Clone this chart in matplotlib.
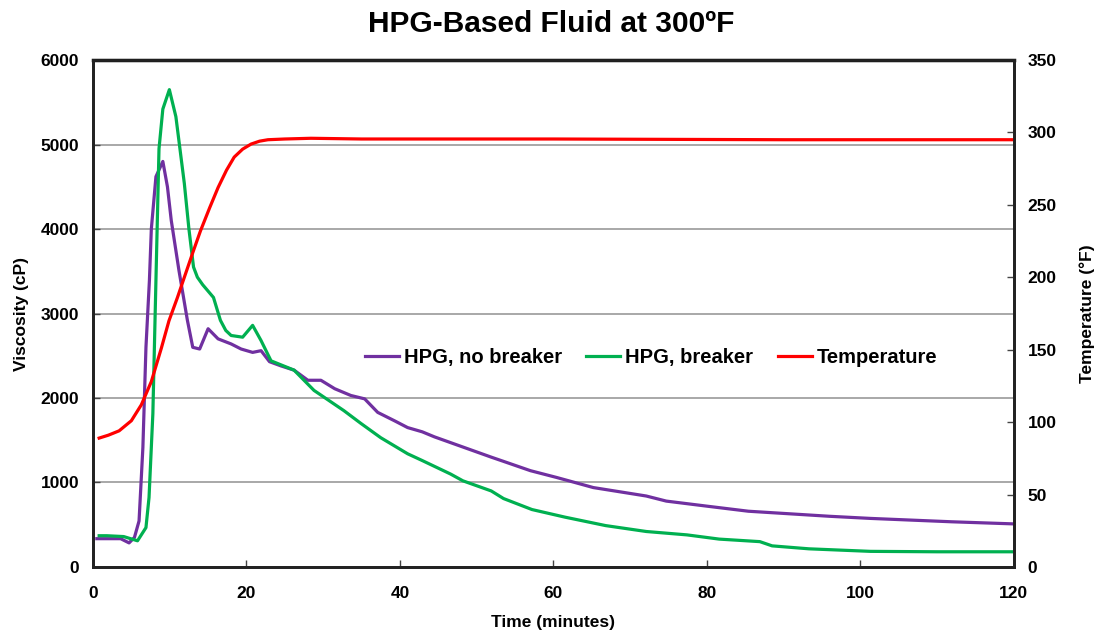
import matplotlib.pyplot as plt

plt.rcParams.update({
    "font.family": ["Liberation Sans", "DejaVu Sans"],
    "font.weight": "bold",
    "font.size": 12,
})

# ── Data ─────────────────────────────────────────────────────────────────────
t_nobrk = [0.5, 3.6, 4.7, 5.4, 6.0, 6.5, 6.9, 7.35, 7.6, 8.2, 9.1, 9.7, 10.2,
           11.2, 12.3, 13.0, 13.9, 15.0, 16.3, 18.0, 19.3, 20.8, 21.9, 23.0,
           24.5, 26.2, 28.0, 29.7, 31.5, 33.6, 35.4, 37.1, 39.3, 41.0, 42.9,
           44.5, 48.2, 51.9, 53.5, 57.0, 60.4, 65.2, 72.1, 74.7, 80.0, 85.4,
           90.7, 96.0, 101.3, 106.6, 111.9, 120.0]
v_nobrk = [335, 335, 285, 350, 545, 1415, 2600, 3390, 4000, 4620, 4800, 4500,
           4100, 3510, 2920, 2600, 2580, 2820, 2700, 2640, 2580, 2540, 2560,
           2430, 2380, 2330, 2210, 2210, 2110, 2030, 1990, 1830, 1730, 1650,
           1600, 1540, 1420, 1300, 1250, 1140, 1060, 940, 840, 780, 720, 660,
           630, 600, 575, 555, 535, 510]

t_brk = [0.8, 1.8, 4.0, 5.8, 6.9, 7.3, 7.8, 8.2, 8.6, 9.1, 9.95, 10.8, 11.9,
         12.5, 13.1, 13.6, 14.3, 15.7, 16.6, 17.3, 18.0, 19.5, 20.8, 21.9,
         23.2, 26.2, 28.8, 32.7, 34.9, 37.5, 41.0, 42.9, 46.6, 48.2, 51.9,
         53.5, 57.2, 61.5, 66.8, 72.1, 77.4, 81.6, 86.9, 88.5, 93.3, 101.3,
         110.0, 120.0]
v_brk = [370, 370, 360, 310, 466, 822, 1815, 3390, 4950, 5420, 5650, 5330,
         4540, 4000, 3550, 3430, 3340, 3190, 2920, 2800, 2740, 2720, 2860,
         2680, 2440, 2330, 2090, 1850, 1700, 1530, 1340, 1260, 1100, 1020,
         900, 810, 680, 590, 490, 420, 380, 330, 300, 250, 215, 185, 180, 180]

t_temp = [0.8, 2.0, 3.4, 5.0, 6.3, 7.6, 8.9, 9.9, 11.0, 11.9, 13.0, 14.0,
          15.2, 16.3, 17.4, 18.4, 19.5, 20.6, 21.7, 22.8, 25.0, 28.4, 35.0,
          60.0, 90.0, 120.0]
temp = [89, 91, 94, 101, 112, 128, 151, 170, 186, 200, 217, 232, 248, 262,
        274, 283, 288.5, 292, 294, 295, 295.5, 296, 295.5, 295.5, 295, 295]

PURPLE = "#7030A0"
GREEN = "#00B050"
RED = "#FF0000"

fig = plt.figure(figsize=(11.02, 6.39), dpi=100)
ax = fig.add_axes([0.0844, 0.1127, 0.8356, 0.7933])
ax2 = ax.twinx()

l1, = ax.plot(t_nobrk, v_nobrk, color=PURPLE, lw=2.3, label="HPG, no breaker")
l2, = ax.plot(t_brk, v_brk, color=GREEN, lw=2.3, label="HPG, breaker")
l3, = ax2.plot(t_temp, temp, color=RED, lw=2.3, label="Temperature")

ax.set_xlim(0, 120)
ax.set_ylim(0, 6000)
ax2.set_ylim(0, 350)
ax.set_xticks(range(0, 121, 20))
ax.set_yticks(range(0, 6001, 1000))
ax2.set_yticks(range(0, 351, 50))

ax.grid(axis="y", color="#999999", lw=1.2)
ax.set_axisbelow(True)
for a in (ax, ax2):
    for s in a.spines.values():
        s.set_linewidth(2)
        s.set_color("#222222")
ax.spines["top"].set_linewidth(2.5)
ax.spines["top"].set_color("black")

ax.tick_params(axis="both", direction="in", length=5, width=1, labelsize=12.5,
               color="#444444")
ax.tick_params(axis="x", pad=14)
ax.tick_params(axis="y", pad=10)
ax2.tick_params(axis="y", direction="in", length=5, width=1, labelsize=12.5,
                color="#444444", pad=10)

ax.set_xlabel("Time (minutes)", fontsize=12.5, fontweight="bold", labelpad=10)
ax.set_ylabel("Viscosity (cP)", fontsize=12.5, fontweight="bold", labelpad=8)
ax2.set_ylabel("Temperature (°F)", fontsize=12.5, fontweight="bold",
               labelpad=16)
fig.suptitle("HPG-Based Fluid at 300ºF", fontsize=21.5, fontweight="bold",
             y=0.985)

ax.legend(handles=[l1, l2, l3], loc="center", bbox_to_anchor=(0.606, 0.414),
          ncol=3, frameon=False, fontsize=14.5, handlelength=1.7,
          handletextpad=0.25, columnspacing=1.2)

fig.savefig("out.png", dpi=100)
